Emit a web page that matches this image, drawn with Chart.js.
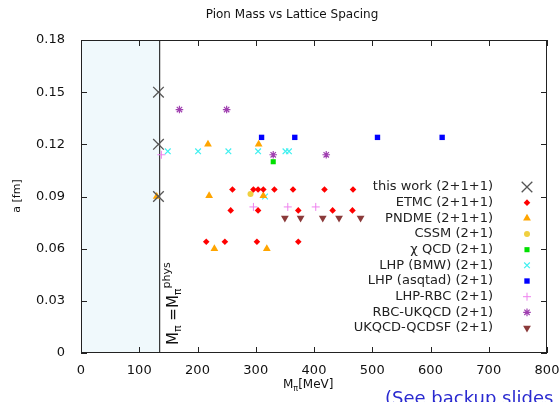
<!DOCTYPE html>
<html>
<head>
<meta charset="utf-8">
<script src="https://cdn.jsdelivr.net/npm/chart.js@4.4.1/dist/chart.umd.min.js"></script>
<style>
  html, body { margin: 0; padding: 0; background: #fff; }
  #wrap { width: 559px; height: 402px; }
</style>
</head>
<body>
<div id="wrap"><canvas id="latticeChart"></canvas></div>
<script>
// axis ticks
const xTicks = [0, 100, 200, 300, 400, 500, 600, 700, 800];
const yTicks = [0, 0.03, 0.06, 0.09, 0.12, 0.15, 0.18];
const yTickLabels = ['0', '0.03', '0.06', '0.09', '0.12', '0.15', '0.18'];
const physMass = 135;

// series: pion mass [MeV] and lattice spacing a [fm]
const thisWorkM = [133, 133, 133];
const thisWorkA = [0.150, 0.120, 0.090];

const etmcM = [260, 296, 304, 313, 332, 364, 418, 467, 257, 304, 373, 432, 466, 215, 247, 302, 373];
const etmcA = [0.094, 0.094, 0.094, 0.094, 0.094, 0.094, 0.094, 0.094, 0.082, 0.082, 0.082, 0.082, 0.082, 0.064, 0.064, 0.064, 0.064];

const pndmeM = [130, 218, 305, 220, 313, 229, 319];
const pndmeA = [0.090, 0.120, 0.120, 0.0905, 0.0905, 0.060, 0.060];

const cssmM = [291];
const cssmA = [0.0914];

const chiqcdM = [330];
const chiqcdA = [0.110];

const lhpBmwM = [149, 201, 253, 304, 351, 357, 316];
const lhpBmwA = [0.116, 0.116, 0.116, 0.116, 0.116, 0.116, 0.090];

const lhpAsqM = [310, 367, 509, 620];
const lhpAsqA = [0.124, 0.124, 0.124, 0.124];

const lhpRbcM = [138, 296, 355, 403];
const lhpRbcA = [0.114, 0.084, 0.084, 0.084];

const rbcUkqcdM = [169, 250, 330, 421];
const rbcUkqcdA = [0.140, 0.140, 0.114, 0.114];

const ukqcdM = [350, 377, 415, 443, 480];
const ukqcdA = [0.0777, 0.0777, 0.0777, 0.0777, 0.0777];

const toPoints = (ms, as) => ms.map((m, i) => ({ x: m, y: as[i] }));

const series = [
  { label: 'this work (2+1+1)', m: thisWorkM, a: thisWorkA, style: 'crossRot', color: '#555555', r: 7.5, bw: 1.3 },
  { label: 'ETMC (2+1+1)', m: etmcM, a: etmcA, style: 'rectRot', color: '#ff0000', r: 3.3, bw: 0 },
  { label: 'PNDME (2+1+1)', m: pndmeM, a: pndmeA, style: 'triangle', color: '#ffa500', r: 4.5, bw: 0 },
  { label: 'CSSM (2+1)', m: cssmM, a: cssmA, style: 'circle', color: '#f0d040', r: 3, bw: 0 },
  { label: '\u03c7 QCD (2+1)', m: chiqcdM, a: chiqcdA, style: 'rect', color: '#00e000', r: 3.6, bw: 0 },
  { label: 'LHP (BMW) (2+1)', m: lhpBmwM, a: lhpBmwA, style: 'crossRot', color: '#40f0f0', r: 4, bw: 1.2 },
  { label: 'LHP (asqtad) (2+1)', m: lhpAsqM, a: lhpAsqA, style: 'rect', color: '#0000ff', r: 3.8, bw: 0 },
  { label: 'LHP-RBC (2+1)', m: lhpRbcM, a: lhpRbcA, style: 'cross', color: '#ee82ee', r: 4, bw: 1 },
  { label: 'RBC-UKQCD (2+1)', m: rbcUkqcdM, a: rbcUkqcdA, style: 'star', color: '#a040b0', r: 3.8, bw: 1.2 },
  { label: 'UKQCD-QCDSF (2+1)', m: ukqcdM, a: ukqcdA, style: 'triangle', color: '#8b3a3a', r: 4.5, bw: 0, rot: 180 }
];

const FONT = '"DejaVu Sans", sans-serif';

// draws a run of text pieces (for sub/superscripts) starting at x, baseline y
function drawRun(ctx, parts, x, y) {
  parts.forEach(p => {
    ctx.font = p.size + 'px ' + FONT;
    ctx.fillText(p.t, x, y + (p.dy || 0));
    x += ctx.measureText(p.t).width;
  });
}

const decorPlugin = {
  id: 'decor',
  beforeDatasetsDraw(chart) {
    const { ctx, chartArea: ca, scales: { x } } = chart;
    const xp = x.getPixelForValue(physMass);
    ctx.save();
    ctx.fillStyle = '#f0f9fc';
    ctx.fillRect(ca.left, ca.top, xp - ca.left, ca.bottom - ca.top);
    ctx.strokeStyle = '#333';
    ctx.lineWidth = 1.2;
    ctx.beginPath();
    ctx.moveTo(xp, ca.top);
    ctx.lineTo(xp, ca.bottom);
    ctx.stroke();

    // vertical annotation
    ctx.translate(xp + 18, ca.bottom - 8);
    ctx.rotate(-Math.PI / 2);
    ctx.fillStyle = '#111';
    ctx.textAlign = 'left';
    ctx.textBaseline = 'alphabetic';
    drawRun(ctx, [
      { t: 'M', size: 15 }, { t: '\u03c0', size: 11, dy: 3 }, { t: ' =', size: 15 },
      { t: 'M', size: 15 }, { t: '\u03c0', size: 11, dy: 3 }, { t: 'phys', size: 11, dy: -8 }
    ], 0, 0);
    ctx.restore();
  },
  afterDraw(chart) {
    const { ctx, chartArea: ca, scales: { x, y } } = chart;
    ctx.save();
    // frame
    ctx.strokeStyle = '#222';
    ctx.lineWidth = 1;
    ctx.strokeRect(ca.left + 0.5, ca.top + 0.5, ca.right - ca.left - 1, ca.bottom - ca.top - 1);
    // inward ticks on all four sides
    ctx.beginPath();
    xTicks.forEach(v => {
      const px = Math.round(x.getPixelForValue(v)) + 0.5;
      ctx.moveTo(px, ca.bottom); ctx.lineTo(px, ca.bottom - 6);
      ctx.moveTo(px, ca.top); ctx.lineTo(px, ca.top + 6);
    });
    yTicks.forEach(v => {
      const py = Math.round(y.getPixelForValue(v)) + 0.5;
      ctx.moveTo(ca.left, py); ctx.lineTo(ca.left + 6, py);
      ctx.moveTo(ca.right, py); ctx.lineTo(ca.right - 6, py);
    });
    ctx.stroke();

    // title
    ctx.fillStyle = '#111';
    ctx.font = '12px ' + FONT;
    ctx.textAlign = 'center';
    ctx.textBaseline = 'middle';
    ctx.fillText('Pion Mass vs Lattice Spacing', 292, 15);

    // y-axis title
    ctx.save();
    ctx.translate(17, 196);
    ctx.rotate(-Math.PI / 2);
    ctx.font = '11px ' + FONT;
    ctx.fillText('a [fm]', 0, 0);
    ctx.restore();

    // x-axis title
    ctx.textAlign = 'left';
    ctx.textBaseline = 'alphabetic';
    drawRun(ctx, [{ t: 'M', size: 12 }, { t: '\u03c0', size: 8, dy: 3 }, { t: '[MeV]', size: 12 }], 283, 388);

    // backup note
    ctx.fillStyle = '#2a2ad0';
    ctx.font = '18px ' + FONT;
    ctx.fillText('(See backup slides', 385, 404);

    // legend: right aligned labels, symbol on the right
    const tx = 493, sx = 527, y0 = 187, dy = 15.67;
    chart.data.datasets.forEach((ds, i) => {
      const yy = y0 + i * dy;
      ctx.fillStyle = '#222';
      ctx.font = '13px ' + FONT;
      ctx.textAlign = 'right';
      ctx.textBaseline = 'middle';
      ctx.fillText(ds.label, tx, yy);
      ctx.fillStyle = ds.backgroundColor;
      ctx.strokeStyle = ds.borderColor;
      ctx.lineWidth = ds.pointBorderWidth || 1;
      Chart.helpers.drawPoint(ctx, {
        pointStyle: ds.pointStyle,
        radius: ds.pointRadius,
        rotation: ds.pointRotation || 0,
        borderWidth: ds.pointBorderWidth
      }, sx, yy);
    });
    ctx.restore();
  }
};

const ctx = document.getElementById('latticeChart');
new Chart(ctx, {
  type: 'scatter',
  data: {
    datasets: series.map(s => ({
      label: s.label,
      data: toPoints(s.m, s.a),
      pointStyle: s.style,
      pointRadius: s.r,
      pointHoverRadius: s.r,
      pointRotation: s.rot || 0,
      backgroundColor: s.color,
      borderColor: s.color,
      pointBorderWidth: s.bw
    }))
  },
  options: {
    responsive: true,
    maintainAspectRatio: false,
    animation: false,
    events: [],
    layout: { padding: { top: 40, right: 12, left: 0, bottom: 0 } },
    plugins: {
      legend: { display: false },
      title: { display: false },
      tooltip: { enabled: false }
    },
    scales: {
      x: {
        type: 'linear',
        min: 0, max: 800,
        afterBuildTicks: s => { s.ticks = xTicks.map(v => ({ value: v })); },
        afterFit: s => { s.height = 49; s.paddingLeft = 0; s.paddingRight = 0; },
        grid: { display: false },
        border: { display: false },
        ticks: { color: '#111', padding: 2, font: { family: FONT, size: 13 }, maxRotation: 0 }
      },
      y: {
        type: 'linear',
        min: 0, max: 0.18,
        afterBuildTicks: s => { s.ticks = yTicks.map(v => ({ value: v })); },
        afterFit: s => { s.width = 81; s.paddingTop = 0; s.paddingBottom = 0; },
        grid: { display: false },
        border: { display: false },
        ticks: {
          color: '#111', padding: 8, font: { family: FONT, size: 13 },
          callback: (v, i) => yTickLabels[i]
        }
      }
    }
  },
  plugins: [decorPlugin]
});
</script>
</body>
</html>
